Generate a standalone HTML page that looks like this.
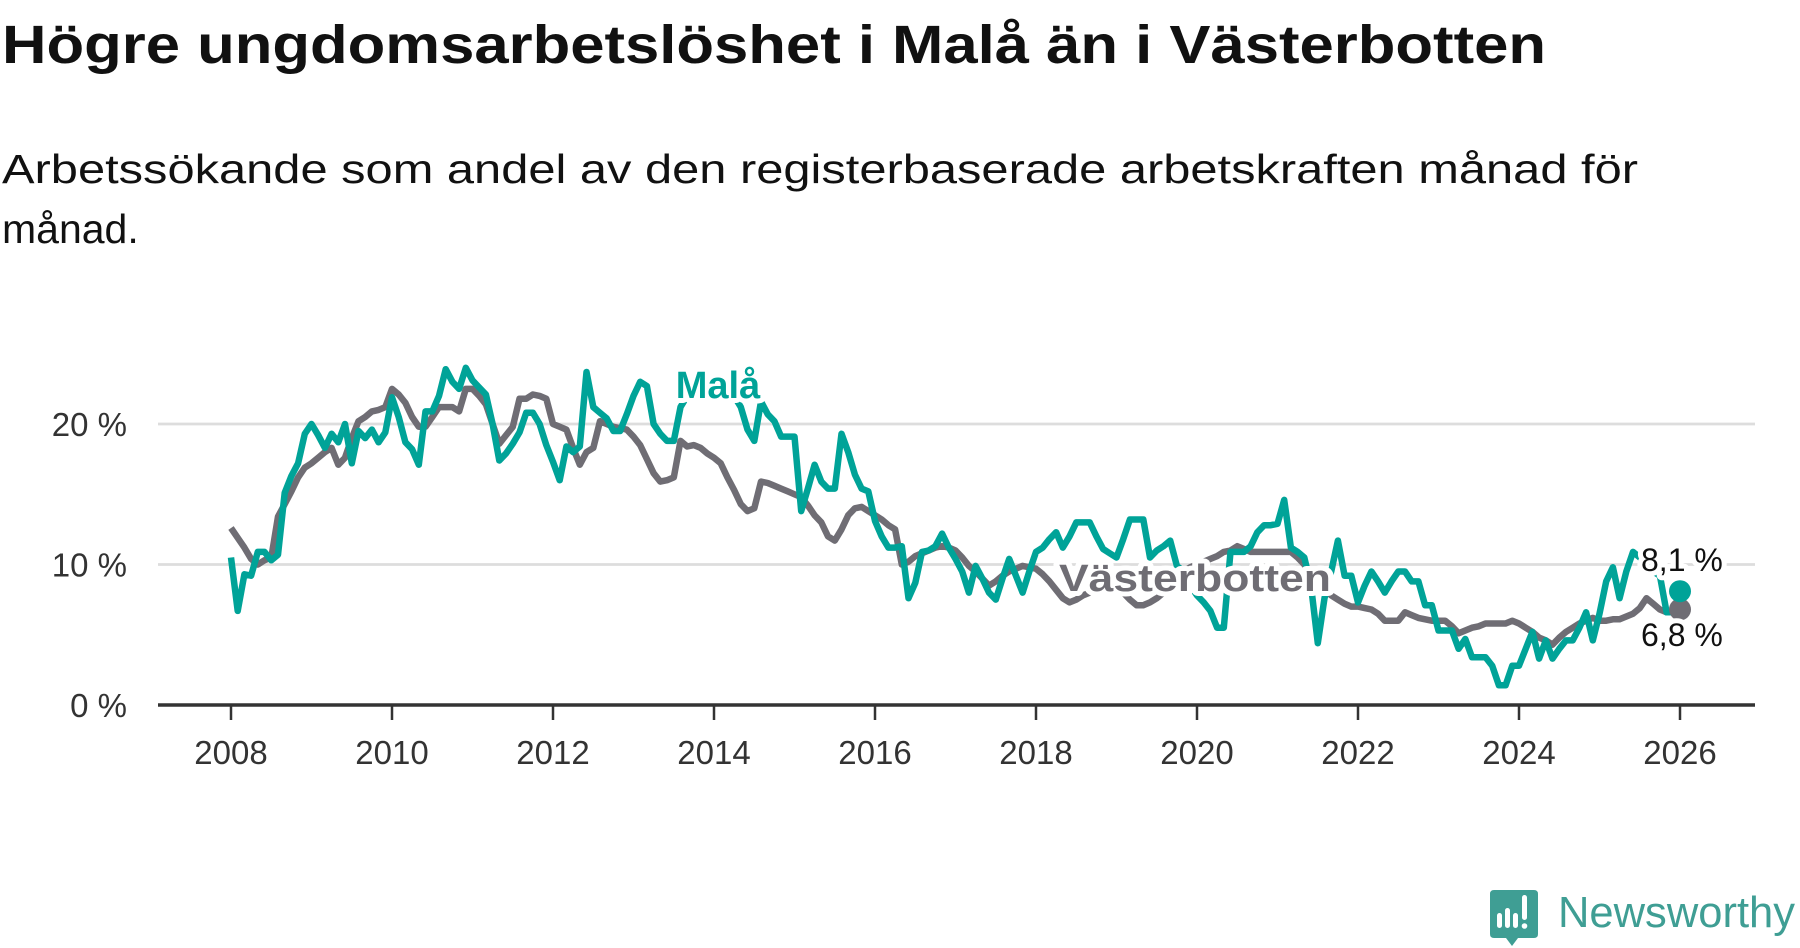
<!DOCTYPE html>
<html><head><meta charset="utf-8"><style>
html,body{margin:0;padding:0;background:#fff;}
svg{display:block;font-family:"Liberation Sans",sans-serif;}
</style></head><body>
<svg id="chart" width="1800" height="948" viewBox="0 0 1800 948" xmlns="http://www.w3.org/2000/svg">
<text x="2" y="63" font-size="54" font-weight="bold" fill="#111" textLength="1544" lengthAdjust="spacingAndGlyphs">Högre ungdomsarbetslöshet i Malå än i Västerbotten</text>
<text font-size="41" fill="#111"><tspan x="2" y="183" textLength="1636" lengthAdjust="spacingAndGlyphs">Arbetssökande som andel av den registerbaserade arbetskraften månad för</tspan><tspan x="2" y="243">månad.</tspan></text>
<g id="grid"></g>
<g id="axes"></g>
<g id="series"></g>
<g id="labels"></g>
<g>
<path d="M1494 890 H1534 Q1538 890 1538 894 V934 Q1538 938 1534 938 H1518 L1512 946 L1506 938 H1494 Q1490 938 1490 934 V894 Q1490 890 1494 890 Z" fill="#3f9e94"/>
<rect x="1497" y="913" width="5" height="15" rx="2.5" fill="#fff"/>
<rect x="1505" y="908" width="5" height="20" rx="2.5" fill="#fff"/>
<rect x="1513" y="913" width="5" height="15" rx="2.5" fill="#fff"/>
<rect x="1522" y="895" width="5" height="25" rx="2.5" fill="#fff"/>
<circle cx="1524.5" cy="926" r="2.8" fill="#fff"/>
<text x="1558" y="927" font-size="44" fill="#3f9e94" textLength="237" lengthAdjust="spacingAndGlyphs">Newsworthy</text>
</g>
</svg>
<script>
const startYear = 2008;
const yTicks = [0, 10, 20];
const yTickLabels = ["0 %", "10 %", "20 %"];
const xTicks = [2008, 2010, 2012, 2014, 2016, 2018, 2020, 2022, 2024, 2026];
const mala = [
10.5,6.7,9.3,9.2,10.9,10.9,10.3,10.7,15.1,16.3,17.2,19.3,
20.0,19.2,18.3,19.3,18.7,20.0,17.2,19.5,19.0,19.6,18.7,19.4,
21.9,20.5,18.7,18.2,17.1,20.9,20.9,22.0,23.9,23.0,22.5,24.0,
23.1,22.6,22.1,20.0,17.4,17.9,18.6,19.4,20.8,20.8,20.0,18.5,
17.3,16.0,18.4,18.0,18.4,23.7,21.2,20.8,20.4,19.5,19.5,20.7,
22.0,23.0,22.7,20.0,19.3,18.8,18.8,21.2,22,22,22,22,
22,22,22,22,21.2,19.6,18.8,21.6,20.7,20.2,19.1,19.1,
19.1,13.8,15.4,17.1,15.9,15.4,15.4,19.3,18.0,16.4,15.4,15.2,
13.1,12.0,11.2,11.2,11.3,7.6,8.7,10.9,11.0,11.3,12.2,11.2,
10.4,9.5,8.0,9.9,9.0,8.0,7.5,9.0,10.4,9.2,8.0,9.5,
10.9,11.2,11.8,12.3,11.2,12.0,13.0,13.0,13.0,12.0,11.1,10.8,
10.5,11.8,13.2,13.2,13.2,10.5,11.0,11.3,11.7,9.9,9.5,8.5,
7.8,7.3,6.7,5.5,5.5,10.9,10.9,10.9,11.3,12.3,12.8,12.8,
12.9,14.6,11.2,10.9,10.5,8.5,4.4,7.6,9.5,11.7,9.2,9.2,
7.3,8.5,9.5,8.8,8.0,8.8,9.5,9.5,8.8,8.8,7.1,7.1,
5.3,5.3,5.3,4.0,4.7,3.4,3.4,3.4,2.8,1.4,1.4,2.8,
2.8,4.0,5.2,3.3,4.6,3.3,4.0,4.6,4.6,5.5,6.6,4.6,
6.5,8.8,9.8,7.6,9.5,10.9,10.5,10.0,9.5,9.2,6.6,6.6,
8.1];
const vasterbotten = [
12.6,11.9,11.2,10.4,10.0,10.3,10.5,13.4,14.3,15.2,16.2,16.9,
17.2,17.6,18.0,18.3,17.1,17.6,19.0,20.2,20.5,20.9,21.0,21.2,
22.5,22.1,21.5,20.5,19.8,19.8,20.5,21.2,21.2,21.2,20.9,22.5,
22.5,22.0,21.4,20.0,18.6,19.2,19.8,21.8,21.8,22.1,22.0,21.8,
20.0,19.8,19.6,18.3,17.1,18.0,18.3,20.2,20.0,19.8,19.7,19.6,
19.1,18.5,17.5,16.5,15.9,16.0,16.2,18.8,18.4,18.5,18.3,17.9,
17.6,17.2,16.2,15.3,14.3,13.8,14.0,15.9,15.8,15.6,15.4,15.2,
15.0,14.8,14.2,13.5,13.0,12.0,11.7,12.5,13.5,14.0,14.1,13.8,
13.5,13.2,12.8,12.5,10.0,10.2,10.6,10.8,11.0,11.2,11.3,11.2,
11.0,10.5,9.9,9.5,9.0,8.5,8.8,9.2,9.5,9.7,9.9,9.8,
9.7,9.3,8.8,8.2,7.6,7.3,7.5,7.8,8.0,8.2,8.3,8.3,
8.2,8.0,7.5,7.1,7.1,7.3,7.6,8.0,8.6,9.2,9.5,9.8,
10.0,10.2,10.4,10.6,10.9,11.0,11.3,11.1,10.9,10.9,10.9,10.9,
10.9,10.9,10.9,10.5,10.0,9.2,8.7,8.2,7.8,7.5,7.2,7.0,
7.0,6.9,6.8,6.5,6.0,6.0,6.0,6.6,6.4,6.2,6.1,6.0,
6.0,6.0,5.6,5.1,5.3,5.5,5.6,5.8,5.8,5.8,5.8,6.0,
5.8,5.5,5.2,4.8,4.6,4.3,4.8,5.2,5.5,5.8,6.0,6.2,
6.0,6.0,6.1,6.1,6.3,6.5,6.9,7.6,7.2,6.8,6.6,6.6,
6.8];

const NS = "http://www.w3.org/2000/svg";
function xScale(yearFrac){ return 231 + (yearFrac - 2008) * 80.5; }
function yScale(v){ return 705 - v * 14.05; }
function mk(tag, attrs, parent){
  const e = document.createElementNS(NS, tag);
  for (const k in attrs) e.setAttribute(k, attrs[k]);
  parent.appendChild(e); return e;
}
const grid = document.getElementById('grid');
const axes = document.getElementById('axes');
const series = document.getElementById('series');
const labels = document.getElementById('labels');

yTicks.forEach((t, i) => {
  if (t > 0) {
    const g = mk('line', {x1:158, x2:1755, y1:yScale(t), y2:yScale(t), stroke:'#dddddd', 'stroke-width':2.7}, grid);
    
    
  }
  const l = mk('text', {x:127, y:yScale(t)+12, 'font-size':33, fill:'#333', 'text-anchor':'end'}, axes);
  l.textContent = yTickLabels[i];
  
  
});
const ax = mk('line', {x1:158, x2:1755, y1:705, y2:705, stroke:'#333', 'stroke-width':3.5}, axes);


xTicks.forEach(t => {
  const tk = mk('line', {x1:xScale(t), x2:xScale(t), y1:705, y2:720, stroke:'#333', 'stroke-width':2.5}, axes);
  
  
  const l = mk('text', {x:xScale(t), y:764, 'font-size':33, fill:'#333', 'text-anchor':'middle'}, axes);
  l.textContent = String(t);
  
  
});
function pathFor(arr){
  return arr.map((v,i) => (i ? 'L' : 'M') + xScale(startYear + i/12).toFixed(1) + ' ' + yScale(v).toFixed(1)).join(' ');
}
const vb = mk('path', {d:pathFor(vasterbotten), fill:'none', stroke:'#6f6d74', 'stroke-width':6.5, 'stroke-linejoin':'round'}, series);


const ml = mk('path', {d:pathFor(mala), fill:'none', stroke:'#00a398', 'stroke-width':6.5, 'stroke-linejoin':'round'}, series);


const lastI = mala.length - 1;
const d1 = mk('circle', {cx:xScale(startYear + (vasterbotten.length-1)/12), cy:yScale(vasterbotten[vasterbotten.length-1]), r:11, fill:'#6f6d74'}, series);


const d2 = mk('circle', {cx:xScale(startYear + lastI/12), cy:yScale(mala[lastI]), r:11, fill:'#00a398'}, series);



function halo(attrs, txt, name){
  const t = mk('text', Object.assign({stroke:'#fff', 'stroke-width':10, 'paint-order':'stroke', 'stroke-linejoin':'round'}, attrs), labels);
  t.textContent = txt;
  
  
}
halo({x:718, y:398, 'font-size':38, 'font-weight':'bold', fill:'#00a398', 'text-anchor':'middle'}, 'Malå', 'label-mala');
halo({x:1195, y:591, 'font-size':38, 'font-weight':'bold', fill:'#6f6d74', 'text-anchor':'middle', textLength:272, lengthAdjust:'spacingAndGlyphs'}, 'Västerbotten', 'label-vasterbotten');
halo({x:1641, y:571, 'font-size':32, fill:'#111'}, (mala[lastI]).toFixed(1).replace('.', ',') + ' %', 'value-label-mala');
halo({x:1641, y:646, 'font-size':32, fill:'#111'}, (vasterbotten[vasterbotten.length-1]).toFixed(1).replace('.', ',') + ' %', 'value-label-vasterbotten');
</script>
</body></html>
